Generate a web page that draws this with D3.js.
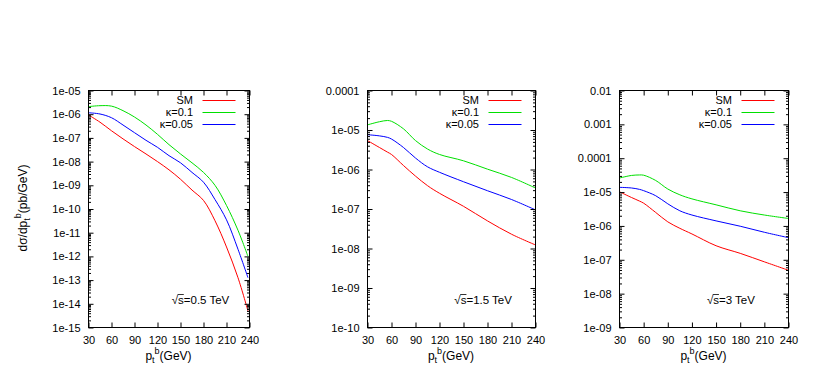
<!DOCTYPE html>
<html>
<head>
<meta charset="utf-8">
<script src="https://cdn.jsdelivr.net/npm/d3@7"></script>
<style>
  body { margin: 0; background: #fff; }
  svg text { font-family: "Liberation Sans", Arial, sans-serif; fill: #000; }
</style>
</head>
<body>
<div id="chart"></div>
<script>
// pt grid (GeV) for each energy
const pt05 = [30, 45, 60, 75, 90, 105, 120, 135, 150, 165, 180, 195, 210, 225, 238]
const pt15 = [30, 45, 55, 60, 75, 90, 105, 120, 150, 180, 210, 240]
const pt3 = [30, 45, 55, 60, 75, 90, 105, 120, 150, 180, 210, 240]

// sqrt(s) = 0.5 TeV
const sm05 = [9.3e-7, 4.6e-7, 2.0e-7, 9.1e-8, 4.3e-8, 2.1e-8, 1.0e-8, 4.5e-9, 1.8e-9, 6.3e-10, 2.3e-10, 3.2e-11, 2.5e-12, 1.26e-13, 5.0e-15]
const k01_05 = [2.09e-6, 2.29e-6, 2.19e-6, 1.41e-6, 7.6e-7, 3.5e-7, 1.41e-7, 5.2e-8, 2.1e-8, 8.9e-9, 3.5e-9, 1.0e-9, 1.41e-10, 1.26e-11, 1.0e-12]
const k005_05 = [1.15e-6, 1.02e-6, 7.1e-7, 3.5e-7, 1.66e-7, 7.9e-8, 4.0e-8, 1.78e-8, 8.9e-9, 3.5e-9, 1.35e-9, 2.5e-10, 3.5e-11, 2.0e-12, 1.26e-13]

// sqrt(s) = 1.5 TeV
const sm15 = [5.4e-6, 3.6e-6, 2.75e-6, 2.4e-6, 1.26e-6, 6.8e-7, 3.9e-7, 2.5e-7, 1.17e-7, 5.0e-8, 2.3e-8, 1.23e-8]
const k01_15 = [1.35e-5, 1.62e-5, 1.74e-5, 1.66e-5, 1.07e-5, 5.4e-6, 3.3e-6, 2.4e-6, 1.66e-6, 1.02e-6, 6.3e-7, 3.4e-7]
const k005_15 = [7.6e-6, 7.1e-6, 6.5e-6, 5.9e-6, 3.6e-6, 1.95e-6, 1.17e-6, 8.5e-7, 4.9e-7, 2.9e-7, 1.74e-7, 9.5e-8]

// sqrt(s) = 3 TeV
const sm3 = [1.02e-5, 6.9e-6, 5.4e-6, 4.7e-6, 2.5e-6, 1.32e-6, 8.5e-7, 5.8e-7, 2.6e-7, 1.55e-7, 8.7e-8, 4.9e-8]
const k01_3 = [2.6e-5, 3.1e-5, 3.2e-5, 3.15e-5, 2.2e-5, 1.23e-5, 8.3e-6, 6.3e-6, 4.2e-6, 2.8e-6, 2.1e-6, 1.66e-6]
const k005_3 = [1.38e-5, 1.32e-5, 1.2e-5, 1.1e-5, 7.8e-6, 4.5e-6, 2.8e-6, 2.1e-6, 1.41e-6, 9.8e-7, 6.5e-7, 4.5e-7]

const xTicks = [30, 60, 90, 120, 150, 180, 210, 240]
const yTicks05 = ["1e-05", "1e-06", "1e-07", "1e-08", "1e-09", "1e-10", "1e-11", "1e-12", "1e-13", "1e-14", "1e-15"]
const yTicks15 = ["0.0001", "1e-05", "1e-06", "1e-07", "1e-08", "1e-09", "1e-10"]
const yTicks3 = ["0.01", "0.001", "0.0001", "1e-05", "1e-06", "1e-07", "1e-08", "1e-09"]

const seriesNames = ["SM", "κ=0.1", "κ=0.05"]
const colors = ["#ff0000", "#00e000", "#0000ff"]

const panels = [
    { pt: pt05, series: [sm05, k01_05, k005_05], ticks: yTicks05, energy: "0.5 TeV", left: 88, right: 249 },
    { pt: pt15, series: [sm15, k01_15, k005_15], ticks: yTicks15, energy: "1.5 TeV", left: 367, right: 535 },
    { pt: pt3, series: [sm3, k01_3, k005_3], ticks: yTicks3, energy: "3 TeV", left: 619, right: 788 }
]

const plotTop = 90, plotBottom = 327

const svg = d3.select("#chart")
    .append("svg")
    .attr("width", 830)
    .attr("height", 376)

panels.forEach(function(p, i) {

    const tickVals = p.ticks.map(t => +t)
    const yMax = d3.max(tickVals), yMin = d3.min(tickVals)

    const x = d3.scaleLinear().domain([30, 240]).range([p.left, p.right])
    const y = d3.scaleLog().domain([yMin, yMax]).range([plotBottom, plotTop])

    // minor ticks 2..9 in each decade
    const minors = []
    for (let e = Math.round(Math.log10(yMin)); e < Math.round(Math.log10(yMax)); e++) {
        for (let m = 2; m <= 9; m++) minors.push(m * Math.pow(10, e))
    }

    const g = svg.append("g").attr("transform", "translate(0.5,0.5)")

    // curves
    p.series.forEach(function(vals, j) {
        const line = d3.line()
            .x((d, k) => x(p.pt[k]))
            .y(d => y(d))
            .curve(d3.curveCatmullRom.alpha(0.5))
        g.append("path")
            .datum(vals)
            .attr("d", line)
            .attr("fill", "none")
            .attr("stroke", colors[j])
            .attr("stroke-width", 1)
    })

    // axes with inward ticks, mirrored
    const yl = g.append("g").attr("transform", `translate(${p.left},0)`)
        .call(d3.axisLeft(y).tickValues(tickVals).tickFormat((d, k) => p.ticks[k]).tickSizeInner(-5).tickSizeOuter(0).tickPadding(8))
    yl.selectAll("text").attr("font-size", 11)
    g.append("g").attr("transform", `translate(${p.left},0)`)
        .call(d3.axisLeft(y).tickValues(minors).tickFormat("").tickSizeInner(-2.5).tickSizeOuter(0))
    g.append("g").attr("transform", `translate(${p.right},0)`)
        .call(d3.axisRight(y).tickValues(tickVals).tickFormat("").tickSizeInner(-5).tickSizeOuter(0))
    g.append("g").attr("transform", `translate(${p.right},0)`)
        .call(d3.axisRight(y).tickValues(minors).tickFormat("").tickSizeInner(-2.5).tickSizeOuter(0))

    const xb = g.append("g").attr("transform", `translate(0,${plotBottom})`)
        .call(d3.axisBottom(x).tickValues(xTicks).tickSizeInner(-5).tickSizeOuter(0).tickPadding(9))
    xb.selectAll("text").attr("font-size", 11)
    g.append("g").attr("transform", `translate(0,${plotTop})`)
        .call(d3.axisTop(x).tickValues(xTicks).tickFormat("").tickSizeInner(-5).tickSizeOuter(0))

    g.selectAll(".domain").remove()
    g.selectAll(".tick line").attr("stroke", "#000")

    g.append("rect")
        .attr("x", p.left).attr("y", plotTop)
        .attr("width", p.right - p.left).attr("height", plotBottom - plotTop)
        .attr("fill", "none").attr("stroke", "#000")

    // legend
    seriesNames.forEach(function(name, j) {
        const ly = 100 + j * 11.8
        svg.append("text")
            .attr("x", p.right - 56).attr("y", ly + 4)
            .attr("text-anchor", "end").attr("font-size", 11)
            .text(name)
        g.append("line")
            .attr("x1", p.right - 47).attr("x2", p.right - 14)
            .attr("y1", Math.round(ly)).attr("y2", Math.round(ly))
            .attr("stroke", colors[j]).attr("stroke-width", 1)
    })

    // energy label
    const ex = p.left + 0.52 * (p.right - p.left)
    const et = svg.append("text")
        .attr("x", ex).attr("y", 304)
        .attr("font-size", 11.5)
    et.append("tspan").text("√")
    et.append("tspan").text("s")
    et.append("tspan").text("=" + p.energy)
    const sq = et.node().getSubStringLength(0, 1)
    const sw = et.node().getSubStringLength(1, 1)
    svg.append("line")
        .attr("x1", ex + sq - 0.5).attr("x2", ex + sq + sw)
        .attr("y1", 294.5).attr("y2", 294.5)
        .attr("stroke", "#000").attr("stroke-width", 0.8)

    // x label
    const xl = svg.append("text")
        .attr("x", (p.left + p.right) / 2).attr("y", 360)
        .attr("text-anchor", "middle").attr("font-size", 12)
    xl.append("tspan").text("p")
    xl.append("tspan").attr("font-size", 9).attr("dy", 3).text("t")
    xl.append("tspan").attr("font-size", 9).attr("dy", -9).text("b")
    xl.append("tspan").attr("dy", 6).text("(GeV)")
})

// y label
const ylab = svg.append("text")
    .attr("transform", "translate(27,208) rotate(-90)")
    .attr("text-anchor", "middle").attr("font-size", 12)
ylab.append("tspan").text("dσ/dp")
ylab.append("tspan").attr("font-size", 9).attr("dy", 3).text("t")
ylab.append("tspan").attr("font-size", 9).attr("dy", -9).text("b")
ylab.append("tspan").attr("dy", 6).text("(pb/GeV)")
</script>
</body>
</html>
